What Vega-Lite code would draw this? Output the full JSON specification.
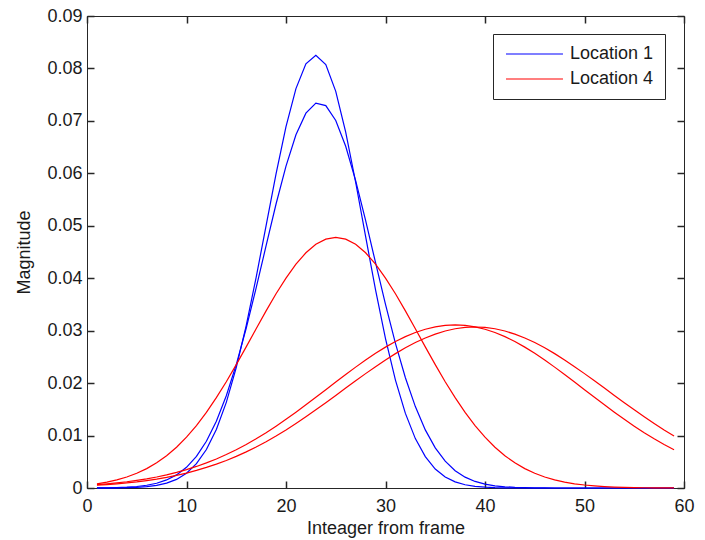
{
"$schema":"https://vega.github.io/schema/vega-lite/v6.json",
"width":597,"height":472,
"autosize":{"type":"none"},
"padding":{"left":87,"top":16,"right":21,"bottom":52},
"background":"white",
"config":{
 "view":{"stroke":"#262626","strokeWidth":1},
 "font":"Liberation Sans",
 "axis":{"grid":false,"domainColor":"#262626","labelFont":"Liberation Sans","labelFontSize":18,"labelColor":"#1a1a1a","titleFont":"Liberation Sans","titleFontSize":18,"titleFontWeight":"normal","titleColor":"#1a1a1a"}
},
"datasets":{"curves":[
{"s":"b1","loc":"Location 1","x":1,"y":0.00001},{"s":"b1","loc":"Location 1","x":2,"y":0.00001},{"s":"b1","loc":"Location 1","x":3,"y":0.00003},{"s":"b1","loc":"Location 1","x":4,"y":0.00006},{"s":"b1","loc":"Location 1","x":5,"y":0.00013},{"s":"b1","loc":"Location 1","x":6,"y":0.00026},{"s":"b1","loc":"Location 1","x":7,"y":0.00049},{"s":"b1","loc":"Location 1","x":8,"y":0.00092},{"s":"b1","loc":"Location 1","x":9,"y":0.00164},{"s":"b1","loc":"Location 1","x":10,"y":0.00281},
{"s":"b1","loc":"Location 1","x":11,"y":0.00463},{"s":"b1","loc":"Location 1","x":12,"y":0.00733},{"s":"b1","loc":"Location 1","x":13,"y":0.01117},{"s":"b1","loc":"Location 1","x":14,"y":0.01633},{"s":"b1","loc":"Location 1","x":15,"y":0.02294},{"s":"b1","loc":"Location 1","x":16,"y":0.03097},{"s":"b1","loc":"Location 1","x":17,"y":0.04016},{"s":"b1","loc":"Location 1","x":18,"y":0.05004},{"s":"b1","loc":"Location 1","x":19,"y":0.05991},{"s":"b1","loc":"Location 1","x":20,"y":0.06891},
{"s":"b1","loc":"Location 1","x":21,"y":0.07616},{"s":"b1","loc":"Location 1","x":22,"y":0.08087},{"s":"b1","loc":"Location 1","x":23,"y":0.0825},{"s":"b1","loc":"Location 1","x":24,"y":0.08073},{"s":"b1","loc":"Location 1","x":25,"y":0.07564},{"s":"b1","loc":"Location 1","x":26,"y":0.06787},{"s":"b1","loc":"Location 1","x":27,"y":0.0583},{"s":"b1","loc":"Location 1","x":28,"y":0.04796},{"s":"b1","loc":"Location 1","x":29,"y":0.03777},{"s":"b1","loc":"Location 1","x":30,"y":0.02849},
{"s":"b1","loc":"Location 1","x":31,"y":0.02058},{"s":"b1","loc":"Location 1","x":32,"y":0.01422},{"s":"b1","loc":"Location 1","x":33,"y":0.00942},{"s":"b1","loc":"Location 1","x":34,"y":0.00598},{"s":"b1","loc":"Location 1","x":35,"y":0.00362},{"s":"b1","loc":"Location 1","x":36,"y":0.00211},{"s":"b1","loc":"Location 1","x":37,"y":0.00117},{"s":"b1","loc":"Location 1","x":38,"y":0.00062},{"s":"b1","loc":"Location 1","x":39,"y":0.00032},{"s":"b1","loc":"Location 1","x":40,"y":0.00016},
{"s":"b1","loc":"Location 1","x":41,"y":0.00007},{"s":"b1","loc":"Location 1","x":42,"y":0.00003},{"s":"b1","loc":"Location 1","x":43,"y":0.00001},{"s":"b1","loc":"Location 1","x":44,"y":0},{"s":"b1","loc":"Location 1","x":45,"y":0},{"s":"b1","loc":"Location 1","x":46,"y":0},{"s":"b1","loc":"Location 1","x":47,"y":0},{"s":"b1","loc":"Location 1","x":48,"y":0},{"s":"b1","loc":"Location 1","x":49,"y":0},{"s":"b1","loc":"Location 1","x":50,"y":0},
{"s":"b1","loc":"Location 1","x":51,"y":0},{"s":"b1","loc":"Location 1","x":52,"y":0},{"s":"b1","loc":"Location 1","x":53,"y":0},{"s":"b1","loc":"Location 1","x":54,"y":0},{"s":"b1","loc":"Location 1","x":55,"y":0},{"s":"b1","loc":"Location 1","x":56,"y":0},{"s":"b1","loc":"Location 1","x":57,"y":0},{"s":"b1","loc":"Location 1","x":58,"y":0},{"s":"b1","loc":"Location 1","x":59,"y":0},
{"s":"b2","loc":"Location 1","x":1,"y":0.00002},{"s":"b2","loc":"Location 1","x":2,"y":0.00004},{"s":"b2","loc":"Location 1","x":3,"y":0.00008},{"s":"b2","loc":"Location 1","x":4,"y":0.00016},{"s":"b2","loc":"Location 1","x":5,"y":0.00029},{"s":"b2","loc":"Location 1","x":6,"y":0.00052},{"s":"b2","loc":"Location 1","x":7,"y":0.00091},{"s":"b2","loc":"Location 1","x":8,"y":0.00154},{"s":"b2","loc":"Location 1","x":9,"y":0.0025},{"s":"b2","loc":"Location 1","x":10,"y":0.00395},
{"s":"b2","loc":"Location 1","x":11,"y":0.00603},{"s":"b2","loc":"Location 1","x":12,"y":0.0089},{"s":"b2","loc":"Location 1","x":13,"y":0.01272},{"s":"b2","loc":"Location 1","x":14,"y":0.0176},{"s":"b2","loc":"Location 1","x":15,"y":0.02353},{"s":"b2","loc":"Location 1","x":16,"y":0.03046},{"s":"b2","loc":"Location 1","x":17,"y":0.03814},{"s":"b2","loc":"Location 1","x":18,"y":0.0462},{"s":"b2","loc":"Location 1","x":19,"y":0.05415},{"s":"b2","loc":"Location 1","x":20,"y":0.06139},
{"s":"b2","loc":"Location 1","x":21,"y":0.06735},{"s":"b2","loc":"Location 1","x":22,"y":0.07148},{"s":"b2","loc":"Location 1","x":23,"y":0.07339},{"s":"b2","loc":"Location 1","x":24,"y":0.07291},{"s":"b2","loc":"Location 1","x":25,"y":0.07007},{"s":"b2","loc":"Location 1","x":26,"y":0.06516},{"s":"b2","loc":"Location 1","x":27,"y":0.05862},{"s":"b2","loc":"Location 1","x":28,"y":0.05102},{"s":"b2","loc":"Location 1","x":29,"y":0.04296},{"s":"b2","loc":"Location 1","x":30,"y":0.035},
{"s":"b2","loc":"Location 1","x":31,"y":0.02759},{"s":"b2","loc":"Location 1","x":32,"y":0.02103},{"s":"b2","loc":"Location 1","x":33,"y":0.01552},{"s":"b2","loc":"Location 1","x":34,"y":0.01108},{"s":"b2","loc":"Location 1","x":35,"y":0.00765},{"s":"b2","loc":"Location 1","x":36,"y":0.00511},{"s":"b2","loc":"Location 1","x":37,"y":0.0033},{"s":"b2","loc":"Location 1","x":38,"y":0.00207},{"s":"b2","loc":"Location 1","x":39,"y":0.00125},{"s":"b2","loc":"Location 1","x":40,"y":0.00073},
{"s":"b2","loc":"Location 1","x":41,"y":0.00041},{"s":"b2","loc":"Location 1","x":42,"y":0.00023},{"s":"b2","loc":"Location 1","x":43,"y":0.00012},{"s":"b2","loc":"Location 1","x":44,"y":0.00006},{"s":"b2","loc":"Location 1","x":45,"y":0.00003},{"s":"b2","loc":"Location 1","x":46,"y":0.00001},{"s":"b2","loc":"Location 1","x":47,"y":0},{"s":"b2","loc":"Location 1","x":48,"y":0},{"s":"b2","loc":"Location 1","x":49,"y":0},{"s":"b2","loc":"Location 1","x":50,"y":0},
{"s":"b2","loc":"Location 1","x":51,"y":0},{"s":"b2","loc":"Location 1","x":52,"y":0},{"s":"b2","loc":"Location 1","x":53,"y":0},{"s":"b2","loc":"Location 1","x":54,"y":0},{"s":"b2","loc":"Location 1","x":55,"y":0},{"s":"b2","loc":"Location 1","x":56,"y":0},{"s":"b2","loc":"Location 1","x":57,"y":0},{"s":"b2","loc":"Location 1","x":58,"y":0},{"s":"b2","loc":"Location 1","x":59,"y":0},
{"s":"rA","loc":"Location 4","x":1,"y":0.0008},{"s":"rA","loc":"Location 4","x":2,"y":0.00112},{"s":"rA","loc":"Location 4","x":3,"y":0.00154},{"s":"rA","loc":"Location 4","x":4,"y":0.00209},{"s":"rA","loc":"Location 4","x":5,"y":0.0028},{"s":"rA","loc":"Location 4","x":6,"y":0.0037},{"s":"rA","loc":"Location 4","x":7,"y":0.0048},{"s":"rA","loc":"Location 4","x":8,"y":0.00615},{"s":"rA","loc":"Location 4","x":9,"y":0.00778},{"s":"rA","loc":"Location 4","x":10,"y":0.00969},
{"s":"rA","loc":"Location 4","x":11,"y":0.01191},{"s":"rA","loc":"Location 4","x":12,"y":0.01442},{"s":"rA","loc":"Location 4","x":13,"y":0.01722},{"s":"rA","loc":"Location 4","x":14,"y":0.02026},{"s":"rA","loc":"Location 4","x":15,"y":0.02352},{"s":"rA","loc":"Location 4","x":16,"y":0.02691},{"s":"rA","loc":"Location 4","x":17,"y":0.03036},{"s":"rA","loc":"Location 4","x":18,"y":0.03377},{"s":"rA","loc":"Location 4","x":19,"y":0.03703},{"s":"rA","loc":"Location 4","x":20,"y":0.04003},
{"s":"rA","loc":"Location 4","x":21,"y":0.04267},{"s":"rA","loc":"Location 4","x":22,"y":0.04485},{"s":"rA","loc":"Location 4","x":23,"y":0.04646},{"s":"rA","loc":"Location 4","x":24,"y":0.04746},{"s":"rA","loc":"Location 4","x":25,"y":0.0478},{"s":"rA","loc":"Location 4","x":26,"y":0.04746},{"s":"rA","loc":"Location 4","x":27,"y":0.04646},{"s":"rA","loc":"Location 4","x":28,"y":0.04485},{"s":"rA","loc":"Location 4","x":29,"y":0.04267},{"s":"rA","loc":"Location 4","x":30,"y":0.04003},
{"s":"rA","loc":"Location 4","x":31,"y":0.03703},{"s":"rA","loc":"Location 4","x":32,"y":0.03377},{"s":"rA","loc":"Location 4","x":33,"y":0.03036},{"s":"rA","loc":"Location 4","x":34,"y":0.02691},{"s":"rA","loc":"Location 4","x":35,"y":0.02352},{"s":"rA","loc":"Location 4","x":36,"y":0.02026},{"s":"rA","loc":"Location 4","x":37,"y":0.01722},{"s":"rA","loc":"Location 4","x":38,"y":0.01442},{"s":"rA","loc":"Location 4","x":39,"y":0.01191},{"s":"rA","loc":"Location 4","x":40,"y":0.00969},
{"s":"rA","loc":"Location 4","x":41,"y":0.00778},{"s":"rA","loc":"Location 4","x":42,"y":0.00615},{"s":"rA","loc":"Location 4","x":43,"y":0.0048},{"s":"rA","loc":"Location 4","x":44,"y":0.0037},{"s":"rA","loc":"Location 4","x":45,"y":0.0028},{"s":"rA","loc":"Location 4","x":46,"y":0.00209},{"s":"rA","loc":"Location 4","x":47,"y":0.00154},{"s":"rA","loc":"Location 4","x":48,"y":0.00112},{"s":"rA","loc":"Location 4","x":49,"y":0.0008},{"s":"rA","loc":"Location 4","x":50,"y":0.00057},
{"s":"rA","loc":"Location 4","x":51,"y":0.0004},{"s":"rA","loc":"Location 4","x":52,"y":0.00027},{"s":"rA","loc":"Location 4","x":53,"y":0.00018},{"s":"rA","loc":"Location 4","x":54,"y":0.00012},{"s":"rA","loc":"Location 4","x":55,"y":0.00008},{"s":"rA","loc":"Location 4","x":56,"y":0.00005},{"s":"rA","loc":"Location 4","x":57,"y":0.00003},{"s":"rA","loc":"Location 4","x":58,"y":0.00002},{"s":"rA","loc":"Location 4","x":59,"y":0.00001},
{"s":"rB","loc":"Location 4","x":1,"y":0.00064},{"s":"rB","loc":"Location 4","x":2,"y":0.00079},{"s":"rB","loc":"Location 4","x":3,"y":0.00098},{"s":"rB","loc":"Location 4","x":4,"y":0.00119},{"s":"rB","loc":"Location 4","x":5,"y":0.00145},{"s":"rB","loc":"Location 4","x":6,"y":0.00175},{"s":"rB","loc":"Location 4","x":7,"y":0.0021},{"s":"rB","loc":"Location 4","x":8,"y":0.00251},{"s":"rB","loc":"Location 4","x":9,"y":0.00298},{"s":"rB","loc":"Location 4","x":10,"y":0.00351},
{"s":"rB","loc":"Location 4","x":11,"y":0.00411},{"s":"rB","loc":"Location 4","x":12,"y":0.00479},{"s":"rB","loc":"Location 4","x":13,"y":0.00554},{"s":"rB","loc":"Location 4","x":14,"y":0.00638},{"s":"rB","loc":"Location 4","x":15,"y":0.0073},{"s":"rB","loc":"Location 4","x":16,"y":0.00831},{"s":"rB","loc":"Location 4","x":17,"y":0.00939},{"s":"rB","loc":"Location 4","x":18,"y":0.01055},{"s":"rB","loc":"Location 4","x":19,"y":0.01179},{"s":"rB","loc":"Location 4","x":20,"y":0.01309},
{"s":"rB","loc":"Location 4","x":21,"y":0.01445},{"s":"rB","loc":"Location 4","x":22,"y":0.01586},{"s":"rB","loc":"Location 4","x":23,"y":0.01729},{"s":"rB","loc":"Location 4","x":24,"y":0.01875},{"s":"rB","loc":"Location 4","x":25,"y":0.02021},{"s":"rB","loc":"Location 4","x":26,"y":0.02165},{"s":"rB","loc":"Location 4","x":27,"y":0.02305},{"s":"rB","loc":"Location 4","x":28,"y":0.0244},{"s":"rB","loc":"Location 4","x":29,"y":0.02568},{"s":"rB","loc":"Location 4","x":30,"y":0.02686},
{"s":"rB","loc":"Location 4","x":31,"y":0.02792},{"s":"rB","loc":"Location 4","x":32,"y":0.02886},{"s":"rB","loc":"Location 4","x":33,"y":0.02964},{"s":"rB","loc":"Location 4","x":34,"y":0.03027},{"s":"rB","loc":"Location 4","x":35,"y":0.03073},{"s":"rB","loc":"Location 4","x":36,"y":0.03101},{"s":"rB","loc":"Location 4","x":37,"y":0.0311},{"s":"rB","loc":"Location 4","x":38,"y":0.03101},{"s":"rB","loc":"Location 4","x":39,"y":0.03073},{"s":"rB","loc":"Location 4","x":40,"y":0.03027},
{"s":"rB","loc":"Location 4","x":41,"y":0.02964},{"s":"rB","loc":"Location 4","x":42,"y":0.02886},{"s":"rB","loc":"Location 4","x":43,"y":0.02792},{"s":"rB","loc":"Location 4","x":44,"y":0.02686},{"s":"rB","loc":"Location 4","x":45,"y":0.02568},{"s":"rB","loc":"Location 4","x":46,"y":0.0244},{"s":"rB","loc":"Location 4","x":47,"y":0.02305},{"s":"rB","loc":"Location 4","x":48,"y":0.02165},{"s":"rB","loc":"Location 4","x":49,"y":0.02021},{"s":"rB","loc":"Location 4","x":50,"y":0.01875},
{"s":"rB","loc":"Location 4","x":51,"y":0.01729},{"s":"rB","loc":"Location 4","x":52,"y":0.01586},{"s":"rB","loc":"Location 4","x":53,"y":0.01445},{"s":"rB","loc":"Location 4","x":54,"y":0.01309},{"s":"rB","loc":"Location 4","x":55,"y":0.01179},{"s":"rB","loc":"Location 4","x":56,"y":0.01055},{"s":"rB","loc":"Location 4","x":57,"y":0.00939},{"s":"rB","loc":"Location 4","x":58,"y":0.00831},{"s":"rB","loc":"Location 4","x":59,"y":0.0073},
{"s":"rC","loc":"Location 4","x":1,"y":0.00052},{"s":"rC","loc":"Location 4","x":2,"y":0.00064},{"s":"rC","loc":"Location 4","x":3,"y":0.00079},{"s":"rC","loc":"Location 4","x":4,"y":0.00097},{"s":"rC","loc":"Location 4","x":5,"y":0.00117},{"s":"rC","loc":"Location 4","x":6,"y":0.00142},{"s":"rC","loc":"Location 4","x":7,"y":0.0017},{"s":"rC","loc":"Location 4","x":8,"y":0.00203},{"s":"rC","loc":"Location 4","x":9,"y":0.00242},{"s":"rC","loc":"Location 4","x":10,"y":0.00285},
{"s":"rC","loc":"Location 4","x":11,"y":0.00335},{"s":"rC","loc":"Location 4","x":12,"y":0.00392},{"s":"rC","loc":"Location 4","x":13,"y":0.00455},{"s":"rC","loc":"Location 4","x":14,"y":0.00525},{"s":"rC","loc":"Location 4","x":15,"y":0.00603},{"s":"rC","loc":"Location 4","x":16,"y":0.00689},{"s":"rC","loc":"Location 4","x":17,"y":0.00783},{"s":"rC","loc":"Location 4","x":18,"y":0.00883},{"s":"rC","loc":"Location 4","x":19,"y":0.00992},{"s":"rC","loc":"Location 4","x":20,"y":0.01107},
{"s":"rC","loc":"Location 4","x":21,"y":0.01229},{"s":"rC","loc":"Location 4","x":22,"y":0.01357},{"s":"rC","loc":"Location 4","x":23,"y":0.0149},{"s":"rC","loc":"Location 4","x":24,"y":0.01626},{"s":"rC","loc":"Location 4","x":25,"y":0.01765},{"s":"rC","loc":"Location 4","x":26,"y":0.01905},{"s":"rC","loc":"Location 4","x":27,"y":0.02044},{"s":"rC","loc":"Location 4","x":28,"y":0.02181},{"s":"rC","loc":"Location 4","x":29,"y":0.02314},{"s":"rC","loc":"Location 4","x":30,"y":0.02442},
{"s":"rC","loc":"Location 4","x":31,"y":0.02562},{"s":"rC","loc":"Location 4","x":32,"y":0.02673},{"s":"rC","loc":"Location 4","x":33,"y":0.02773},{"s":"rC","loc":"Location 4","x":34,"y":0.02861},{"s":"rC","loc":"Location 4","x":35,"y":0.02934},{"s":"rC","loc":"Location 4","x":36,"y":0.02993},{"s":"rC","loc":"Location 4","x":37,"y":0.03036},{"s":"rC","loc":"Location 4","x":38,"y":0.03061},{"s":"rC","loc":"Location 4","x":39,"y":0.0307},{"s":"rC","loc":"Location 4","x":40,"y":0.03061},
{"s":"rC","loc":"Location 4","x":41,"y":0.03036},{"s":"rC","loc":"Location 4","x":42,"y":0.02993},{"s":"rC","loc":"Location 4","x":43,"y":0.02934},{"s":"rC","loc":"Location 4","x":44,"y":0.02861},{"s":"rC","loc":"Location 4","x":45,"y":0.02773},{"s":"rC","loc":"Location 4","x":46,"y":0.02673},{"s":"rC","loc":"Location 4","x":47,"y":0.02562},{"s":"rC","loc":"Location 4","x":48,"y":0.02442},{"s":"rC","loc":"Location 4","x":49,"y":0.02314},{"s":"rC","loc":"Location 4","x":50,"y":0.02181},
{"s":"rC","loc":"Location 4","x":51,"y":0.02044},{"s":"rC","loc":"Location 4","x":52,"y":0.01905},{"s":"rC","loc":"Location 4","x":53,"y":0.01765},{"s":"rC","loc":"Location 4","x":54,"y":0.01626},{"s":"rC","loc":"Location 4","x":55,"y":0.0149},{"s":"rC","loc":"Location 4","x":56,"y":0.01357},{"s":"rC","loc":"Location 4","x":57,"y":0.01229},{"s":"rC","loc":"Location 4","x":58,"y":0.01107},{"s":"rC","loc":"Location 4","x":59,"y":0.00992}
]},
"data":{"name":"curves"},
"layer":[
 {"mark":{"type":"line","strokeWidth":1.2},
  "encoding":{
   "x":{"field":"x","type":"quantitative","scale":{"domain":[0,60],"nice":false,"zero":false},
        "axis":{"values":[0,10,20,30,40,50,60],"ticks":false,"labelFlush":false,"labelPadding":9,"title":"Inteager from frame","titleY":45,"titleBaseline":"alphabetic"}},
   "y":{"field":"y","type":"quantitative","scale":{"domain":[0,0.09],"nice":false,"zero":false},
        "axis":{"values":[0,0.01,0.02,0.03,0.04,0.05,0.06,0.07,0.08,0.09],"ticks":false,"labelFlush":false,"labelExpr":"datum.value == 0 ? '0' : format(datum.value, '.2f')","labelPadding":5,"title":"Magnitude","titleX":-58,"titleBaseline":"alphabetic"}},
   "color":{"field":"loc","type":"nominal","scale":{"domain":["Location 1","Location 4"],"range":["#0000ff","#ff0000"]},
     "legend":{"orient":"none","legendX":406,"legendY":18,"title":null,"symbolType":"M-1,0H7.14","symbolSize":196,"symbolStrokeWidth":1.2,"labelFont":"Liberation Sans","labelFontSize":18,"labelColor":"#1a1a1a","labelOffset":48,"strokeColor":"#262626","fillColor":"white","padding":11,"rowPadding":7}},
   "detail":{"field":"s"}
  }},
 {"mark":{"type":"line","opacity":0},
  "encoding":{
   "x":{"field":"x","type":"quantitative","scale":{"domain":[0,60],"nice":false,"zero":false},
        "axis":{"orient":"top","offset":-472,"domain":false,"ticks":true,"tickSize":7,"tickWidth":1.5,"tickColor":"#262626","values":[0,10,20,30,40,50,60],"labels":false,"title":null}},
   "y":{"field":"y","type":"quantitative","scale":{"domain":[0,0.09],"nice":false,"zero":false},
        "axis":{"orient":"right","offset":-597,"domain":false,"ticks":true,"tickSize":7,"tickWidth":1.5,"tickColor":"#262626","values":[0,0.01,0.02,0.03,0.04,0.05,0.06,0.07,0.08,0.09],"labels":false,"title":null}},
   "detail":{"field":"s"}
  }},
 {"mark":{"type":"line","opacity":0},
  "encoding":{
   "x":{"field":"x","type":"quantitative","scale":{"domain":[0,60],"nice":false,"zero":false},
        "axis":{"orient":"bottom","offset":-472,"domain":false,"ticks":true,"tickSize":7,"tickWidth":1.5,"tickColor":"#262626","values":[0,10,20,30,40,50,60],"labels":false,"title":null}},
   "y":{"field":"y","type":"quantitative","scale":{"domain":[0,0.09],"nice":false,"zero":false},
        "axis":{"orient":"left","offset":-597,"domain":false,"ticks":true,"tickSize":7,"tickWidth":1.5,"tickColor":"#262626","values":[0,0.01,0.02,0.03,0.04,0.05,0.06,0.07,0.08,0.09],"labels":false,"title":null}},
   "detail":{"field":"s"}
  }}
],
"resolve":{"axis":{"x":"independent","y":"independent"}}
}
